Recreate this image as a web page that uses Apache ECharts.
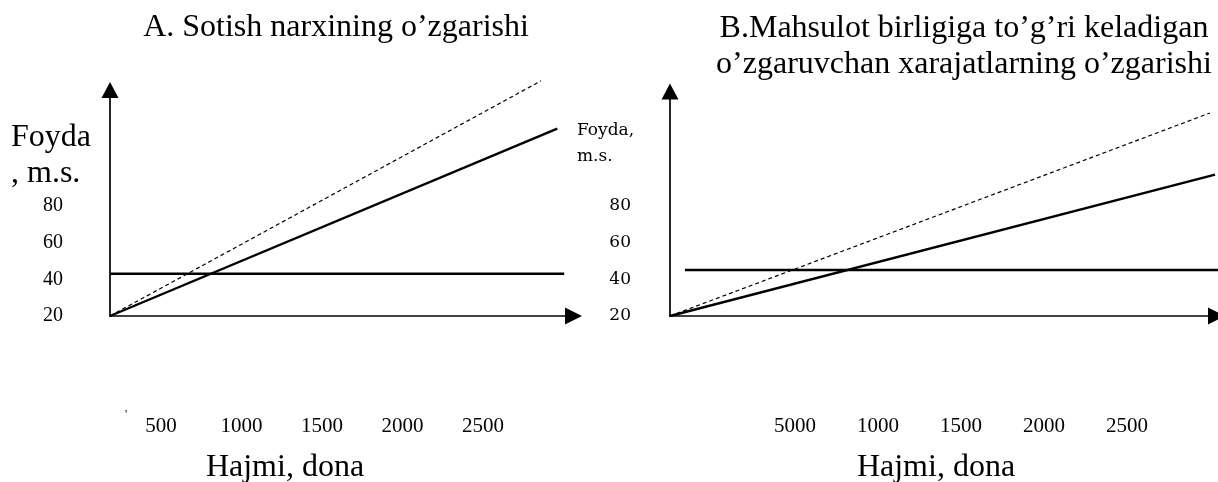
<!DOCTYPE html>
<html>
<head>
<meta charset="utf-8">
<script src="https://cdn.jsdelivr.net/npm/echarts@6/dist/echarts.min.js"></script>
<style>
  html, body { margin: 0; padding: 0; background: #fff; }
  #chart { width: 1218px; height: 482px; }
</style>
</head>
<body>
<div id="chart"></div>
<script>
// ---- Data ----
const yTickValues = [20, 40, 60, 80];
const xTickValues = [500, 1000, 1500, 2000, 2500];
const xTickLabelsA = ['500', '1000', '1500', '2000', '2500'];
const xTickLabelsB = ['5000', '1000', '1500', '2000', '2500'];

// Panel A: change of selling price
const fixedA = [[0, 43], [2940, 43]];
const profitA = [[0, 20], [2895, 122]];
const profitNewA = [[0, 20], [2790, 148]];

// Panel B: change of variable cost per unit
const fixedB = [[82, 45], [3008, 45]];
const profitB = [[0, 20], [2992, 97]];
const profitNewB = [[0, 20], [2964, 130.5]];

const titleA = 'A. Sotish narxining o’zgarishi';
const titleB = 'B.Mahsulot birligiga to’g’ri keladigan\no’zgaruvchan xarajatlarning o’zgarishi';
const yNameA = 'Foyda\n, m.s.';
const yNameB = 'Foyda,\nm.s.';
const xName = 'Hajmi, dona';

// ---- Chart ----
const serif = 'Liberation Serif';
const black = '#000';
const axisLine = (size) => ({
  show: true, onZero: false,
  symbol: ['none', 'triangle'], symbolSize: size,
  lineStyle: { color: black, width: 1.7 }
});

function mainX(grid) {
  return {
    gridIndex: grid, type: 'value', min: 0, max: 3000,
    axisLine: axisLine([17, 17]), axisTick: { show: false },
    axisLabel: { show: false }, splitLine: { show: false }
  };
}
function labelX(grid, min, max, labels) {
  return {
    gridIndex: grid, type: 'value', min: min, max: max, position: 'bottom',
    axisLine: { show: false }, axisTick: { show: false }, splitLine: { show: false },
    axisLabel: {
      customValues: xTickValues, margin: 100,
      fontFamily: serif, fontSize: 21, color: black,
      formatter: (v) => labels[xTickValues.indexOf(v)]
    }
  };
}
function mainY(grid, max, margin, font, size) {
  return {
    gridIndex: grid, type: 'value', min: 20, max: max, interval: 20,
    axisLine: axisLine([17, 16]), axisTick: { show: false }, splitLine: { show: false },
    axisLabel: {
      customValues: yTickValues, margin: margin,
      fontFamily: font, fontSize: size, color: black,
      formatter: (v) => String(v)
    }
  };
}
function line(xi, yi, data, dashed) {
  return {
    type: 'line', xAxisIndex: xi, yAxisIndex: yi, data: data,
    symbol: 'none', clip: false, silent: true,
    lineStyle: dashed ? { color: black, width: 1.2, type: [4, 3] }
                      : { color: black, width: 2.4 }
  };
}
function text(str, x, y, opts) {
  return {
    type: 'text', x: x, y: y, silent: true,
    style: Object.assign({
      text: str, fill: black, fontFamily: serif, fontSize: 32,
      lineHeight: 36, align: 'left', verticalAlign: 'top',
      textAlign: 'left', textVerticalAlign: 'top'
    }, opts || {})
  };
}

const chart = echarts.init(document.getElementById('chart'), null, { renderer: 'canvas' });
chart.setOption({
  animation: false,
  backgroundColor: '#fff',
  grid: [
    { left: 110, top: 90, width: 463.5, height: 226 },
    { left: 670, top: 91.5, width: 546.5, height: 224.5 }
  ],
  xAxis: [
    mainX(0),
    labelX(0, 183.2, 3062, xTickLabelsA),
    mainX(1),
    labelX(1, -253, 3039, xTickLabelsB)
  ],
  yAxis: [
    mainY(0, 143, 47, serif, 20),
    mainY(1, 142.2, 39, 'DejaVu Serif', 17)
  ],
  series: [
    line(0, 0, fixedA, false),
    line(0, 0, profitA, false),
    line(0, 0, profitNewA, true),
    line(2, 1, fixedB, false),
    line(2, 1, profitB, false),
    line(2, 1, profitNewB, true)
  ],
  graphic: [
    text(titleA, 336, 10, { align: 'center', textAlign: 'center' }),
    text(titleB, 964, 11, { align: 'center', textAlign: 'center' }),
    text(yNameA, 11, 120),
    text(yNameB, 577, 118, { fontFamily: 'DejaVu Serif', fontSize: 17, lineHeight: 26 }),
    text(xName, 285, 449.5, { align: 'center', textAlign: 'center' }),
    text(xName, 936, 449.5, { align: 'center', textAlign: 'center' }),
    text("'", 126, 408, { fontSize: 12, lineHeight: 14, align: 'center', textAlign: 'center' })
  ]
});
</script>
</body>
</html>
